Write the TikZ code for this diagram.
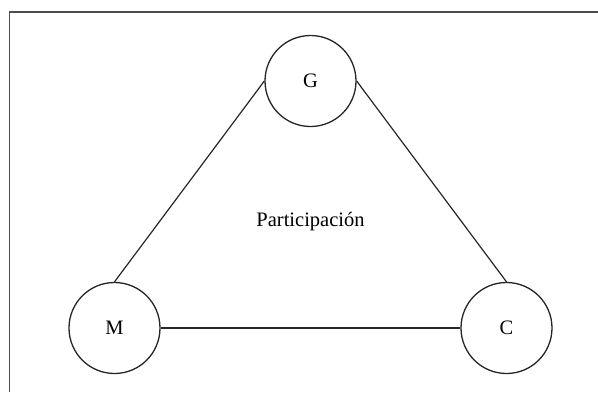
\documentclass[tikz,border=0pt]{standalone}
\usepackage{fontspec}
\setmainfont{Liberation Serif}
\begin{document}
\begin{tikzpicture}[x=1pt,y=-1pt,
  vertex/.style={circle,draw=black!85,line width=1.3pt,minimum size=91pt,inner sep=0pt,font=\fontsize{20.5}{24}\selectfont},
  edge/.style={draw=black!85,line width=1.2pt},
  frame/.style={draw=black!70,line width=1.6pt}]
\useasboundingbox (0,0) rectangle (598,392);
\coordinate (tl) at (9.5,12);
\coordinate (tr) at (598,12);
\coordinate (bl) at (9.5,392);
\draw[frame] (tr) -- (tl) -- (bl);
\node[vertex] (G) at (310.5,81) {G};
\node[vertex] (M) at (114.5,328) {M};
\node[vertex] (C) at (506.5,328) {C};
\node[font=\fontsize{20.5}{24}\selectfont] (P) at (310.5,222) {Participación};
\draw[edge] (G.west) -- (M.north);
\draw[edge] (G.east) -- (C.north);
\draw[edge] (M.east) -- (C.west);
\end{tikzpicture}
\end{document}
